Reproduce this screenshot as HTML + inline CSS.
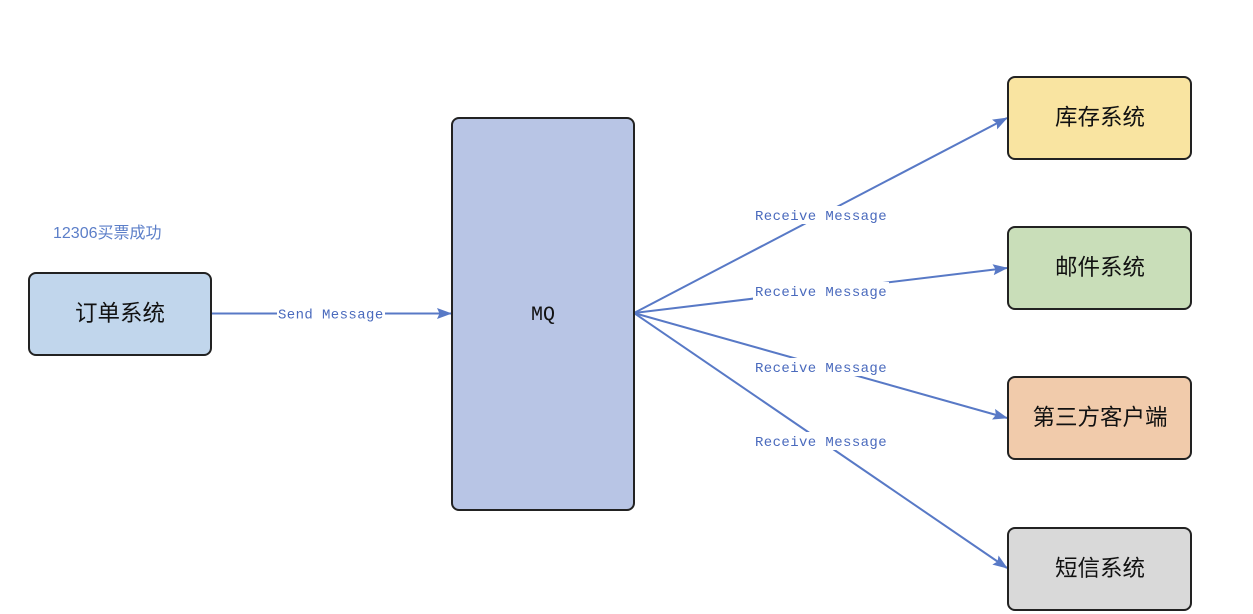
<!DOCTYPE html>
<html><head><meta charset="utf-8">
<style>
html,body{margin:0;padding:0;background:#fff;}
body{width:1253px;height:614px;overflow:hidden;}
svg{display:block;}
.cj{font-family:"Liberation Sans","Noto Sans CJK SC",sans-serif;font-size:22.5px;fill:#111;}
.lb{font-family:"Liberation Mono","DejaVu Sans Mono",monospace;font-size:14px;fill:#4a6abd;letter-spacing:0.4px;}
</style></head>
<body>
<svg width="1253" height="614" viewBox="0 0 1253 614" xmlns="http://www.w3.org/2000/svg">
<defs>
<marker id="a" viewBox="0 0 15 11" refX="14" refY="5.5" markerWidth="15" markerHeight="11" markerUnits="userSpaceOnUse" orient="auto">
<path d="M0,0 L15,5.5 L0,11 L2.5,5.5 z" fill="#5879c6"/>
</marker>
</defs>

<!-- title label -->
<text x="53" y="238" font-family="Liberation Sans, Noto Sans CJK SC, sans-serif" font-size="16" fill="#5b7ec8">12306买票成功</text>

<!-- connectors -->
<g stroke="#5879c6" stroke-width="2" fill="none">
<line x1="211" y1="313.5" x2="451" y2="313.5" marker-end="url(#a)"/>
<line x1="634" y1="313" x2="1007" y2="118" marker-end="url(#a)"/>
<line x1="634" y1="313" x2="1007" y2="268" marker-end="url(#a)"/>
<line x1="634" y1="313" x2="1007" y2="418" marker-end="url(#a)"/>
<line x1="634" y1="313" x2="1007" y2="568" marker-end="url(#a)"/>
</g>

<!-- label backgrounds -->
<g fill="#fff">
<rect x="277" y="305" width="108" height="17"/>
<rect x="753" y="206" width="136" height="18"/>
<rect x="753" y="282" width="136" height="18"/>
<rect x="753" y="358" width="136" height="18"/>
<rect x="753" y="432" width="136" height="18"/>
</g>
<g class="lb">
<text x="278" y="318.5">Send Message</text>
<text x="755" y="220">Receive Message</text>
<text x="755" y="296">Receive Message</text>
<text x="755" y="372">Receive Message</text>
<text x="755" y="446">Receive Message</text>
</g>

<!-- boxes -->
<g stroke="#222" stroke-width="2">
<rect x="29" y="273" width="182" height="82" rx="7" fill="#c1d6ec"/>
<rect x="452" y="118" width="182" height="392" rx="7" fill="#b8c5e5"/>
<rect x="1008" y="77" width="183" height="82" rx="7" fill="#f9e4a1"/>
<rect x="1008" y="227" width="183" height="82" rx="7" fill="#c9deb9"/>
<rect x="1008" y="377" width="183" height="82" rx="7" fill="#f1cbab"/>
<rect x="1008" y="528" width="183" height="82" rx="7" fill="#d9d9d9"/>
</g>

<g class="cj" text-anchor="middle">
<text x="120" y="321">订单系统</text>
<text x="1100" y="125">库存系统</text>
<text x="1100" y="275">邮件系统</text>
<text x="1100" y="425">第三方客户端</text>
<text x="1100" y="576">短信系统</text>
</g>
<text x="543" y="320" text-anchor="middle" font-family="Liberation Mono, DejaVu Sans Mono, monospace" font-size="20" fill="#111">MQ</text>
</svg>
</body></html>
